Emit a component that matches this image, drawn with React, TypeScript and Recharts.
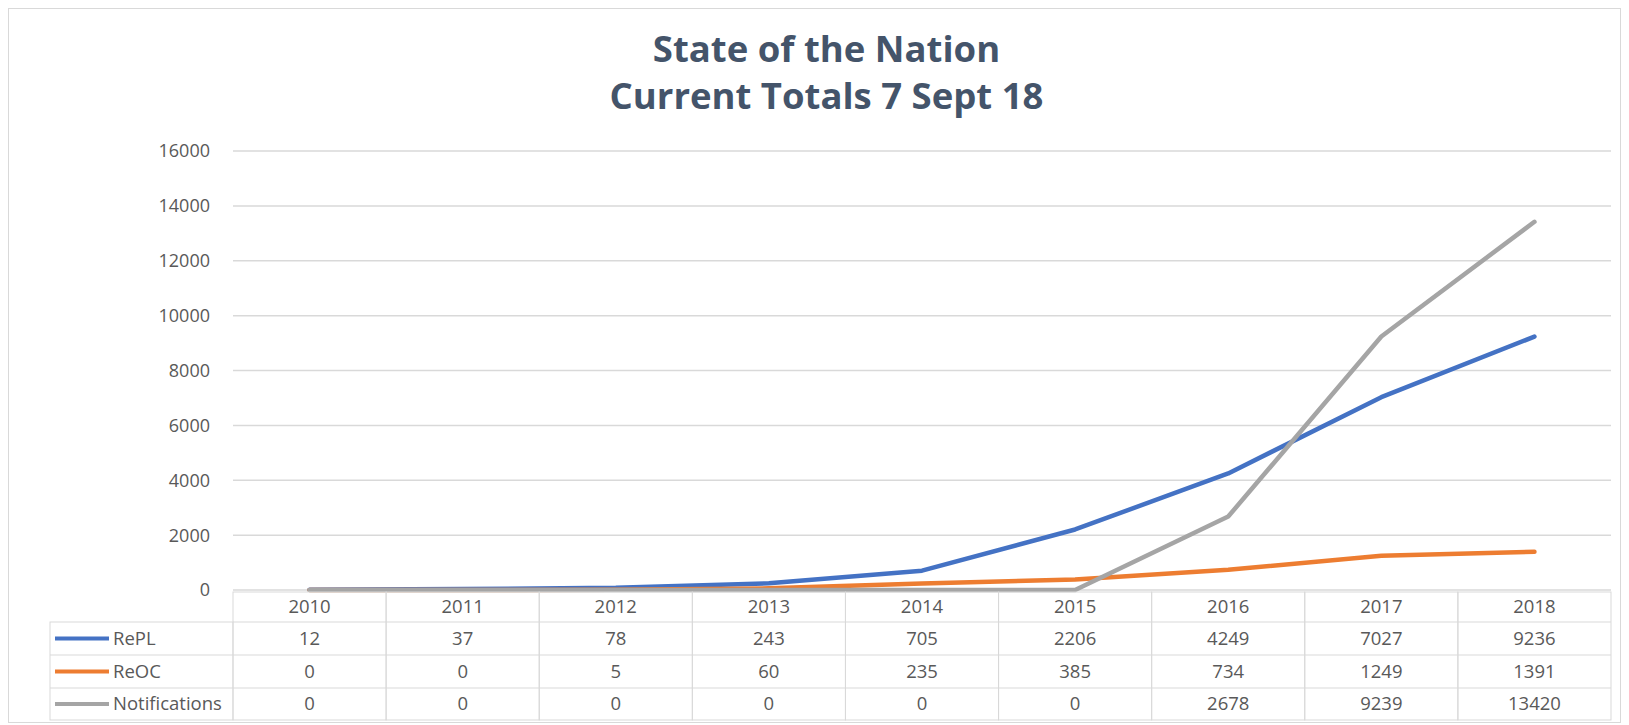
import { LineChart, Line, XAxis, YAxis, CartesianGrid } from 'recharts';

const years = ['2010', '2011', '2012', '2013', '2014', '2015', '2016', '2017', '2018'];
const repl = [12, 37, 78, 243, 705, 2206, 4249, 7027, 9236];
const reoc = [0, 0, 5, 60, 235, 385, 734, 1249, 1391];
const notifications = [0, 0, 0, 0, 0, 0, 2678, 9239, 13420];
const yTicks = [0, 2000, 4000, 6000, 8000, 10000, 12000, 14000, 16000];

const series = [
  { key: 'RePL', name: 'RePL', values: repl, color: '#4472C4' },
  { key: 'ReOC', name: 'ReOC', values: reoc, color: '#ED7D31' },
  { key: 'Notifications', name: 'Notifications', values: notifications, color: '#A5A5A5' },
];

const data = years.map((year, i) => {
  const row: Record<string, string | number> = { year };
  series.forEach(s => { row[s.key] = s.values[i]; });
  return row;
});

const FONT = '"Open Sans", sans-serif';
const TEXT = '#595959';
const BORDER = '#d9d9d9';

const W = 1611;
const H = 712;
const M = { top: 142, right: 9, bottom: 1, left: 0 };
const Y_W = 224;
const BAND = (W - M.right - M.left - Y_W) / years.length;
// row edges of the data table, measured from the axis line
const ROWS = [2, 32, 65, 98, 130];

// draws one column of the data table under each category, plus the legend column on the first one
function TableTick(props: any) {
  const { x, y, payload, index } = props;
  const top = y + ROWS[0];
  const left = x - BAND / 2;
  const mid = (a: number, b: number) => y + (ROWS[a] + ROWS[b]) / 2;
  const i = years.indexOf(payload.value);
  return (
    <g fontFamily={FONT} fontSize={18.5} fill={TEXT}>
      <rect x={left} y={top} width={BAND} height={ROWS[4] - ROWS[0]} fill="none" stroke={BORDER} />
      {[1, 2, 3].map(r => (
        <line key={r} x1={left} x2={left + BAND} y1={y + ROWS[r]} y2={y + ROWS[r]} stroke={BORDER} />
      ))}
      <text x={x} y={mid(0, 1)} dy="0.35em" textAnchor="middle" fill={TEXT}>{payload.value}</text>
      {series.map((s, r) => (
        <text key={s.key} x={x} y={mid(r + 1, r + 2)} dy="0.35em" textAnchor="middle" fill={TEXT}>
          {s.values[i]}
        </text>
      ))}
      {index === 0 && (
        <g>
          <rect x={41} y={y + ROWS[1]} width={left - 41} height={ROWS[4] - ROWS[1]} fill="none" stroke={BORDER} />
          {[2, 3].map(r => (
            <line key={r} x1={41} x2={left} y1={y + ROWS[r]} y2={y + ROWS[r]} stroke={BORDER} />
          ))}
          {series.map((s, r) => (
            <g key={s.key}>
              <line x1={46} x2={100} y1={mid(r + 1, r + 2)} y2={mid(r + 1, r + 2)} stroke={s.color} strokeWidth={4} />
              <text x={104} y={mid(r + 1, r + 2)} dy="0.35em" fill={TEXT}>{s.name}</text>
            </g>
          ))}
        </g>
      )}
    </g>
  );
}

export default function App() {
  return (
    <div style={{ position: 'relative', width: W, height: H + 1, border: `1px solid ${BORDER}`, background: '#fff' }}>
      <div
        style={{
          position: 'absolute', left: 0, top: 16, width: W, paddingLeft: 24, boxSizing: 'border-box',
          textAlign: 'center', fontFamily: FONT, fontWeight: 700, fontSize: 36.5, lineHeight: '47px', color: '#44546A',
        }}
      >
        <div>State of the Nation</div>
        <div>Current Totals 7 Sept 18</div>
      </div>
      <LineChart width={W} height={H} data={data} margin={M}>
        <CartesianGrid vertical={false} stroke={BORDER} strokeWidth={1.5} />
        <XAxis
          dataKey="year"
          height={130}
          axisLine={false}
          tickLine={false}
          tickSize={0}
          tickMargin={0}
          interval={0}
          padding={{ left: BAND / 2, right: BAND / 2 }}
          tick={<TableTick />}
        />
        <YAxis
          width={Y_W}
          domain={[0, 16000]}
          ticks={yTicks}
          axisLine={false}
          tickLine={false}
          tickSize={0}
          tickMargin={23}
          tick={{ fill: TEXT, fontSize: 18, fontFamily: FONT }}
        />
        {series.map(s => (
          <Line
            key={s.key}
            type="linear"
            dataKey={s.key}
            name={s.name}
            stroke={s.color}
            strokeWidth={4.5}
            strokeLinecap="round"
            strokeLinejoin="round"
            dot={false}
            isAnimationActive={false}
          />
        ))}
      </LineChart>
    </div>
  );
}
